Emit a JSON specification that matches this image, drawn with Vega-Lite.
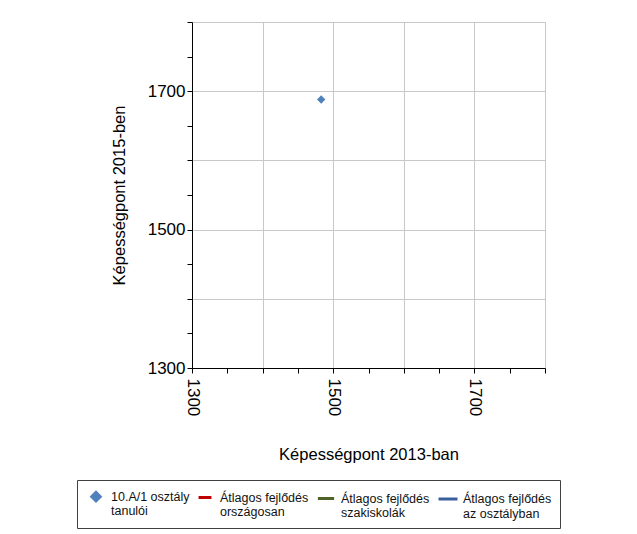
{
  "$schema": "https://vega.github.io/schema/vega-lite/v6.json",
  "width": 353,
  "height": 346,
  "autosize": {"type": "none"},
  "padding": {"left": 192, "top": 22, "right": 92, "bottom": 166},
  "background": "white",
  "config": {"font": "Liberation Sans", "view": {"stroke": "#c8c8c8"}},
  "data": {"values": [{"series": "10.A/1 osztály|tanulói", "x2013": 1483, "y2015": 1688}]},
  "mark": {"type": "point", "filled": true, "opacity": 1, "strokeWidth": 0},
  "encoding": {
    "x": {
      "field": "x2013", "type": "quantitative",
      "scale": {"domain": [1300, 1800], "nice": false, "zero": false},
      "axis": {
        "values": [1300, 1350, 1400, 1450, 1500, 1550, 1600, 1650, 1700, 1750, 1800],
        "format": "d",
        "labelExpr": "(datum.value - 1300) % 200 === 0 && datum.value < 1800 ? datum.label : ''",
        "labelAngle": 90, "labelAlign": "left", "labelBaseline": "middle",
        "labelFontSize": 17, "labelColor": "black", "labelPadding": 5,
        "labelFlush": false, "labelOverlap": false,
        "tickColor": "black", "tickSize": 5, "domainColor": "black",
        "gridColor": "#c8c8c8",
        "gridOpacity": {"condition": {"test": "datum.value % 100 === 0", "value": 1}, "value": 0},
        "title": "Képességpont 2013-ban", "titleFontSize": 16.5, "titleFontWeight": "normal",
        "titleColor": "black", "titlePadding": 31
      }
    },
    "y": {
      "field": "y2015", "type": "quantitative",
      "scale": {"domain": [1300, 1800], "nice": false, "zero": false},
      "axis": {
        "values": [1300, 1350, 1400, 1450, 1500, 1550, 1600, 1650, 1700, 1750, 1800],
        "format": "d",
        "labelExpr": "(datum.value - 1300) % 200 === 0 && datum.value < 1800 ? datum.label : ''",
        "labelFontSize": 17, "labelColor": "black", "labelPadding": 2,
        "labelFlush": false, "labelOverlap": false,
        "tickColor": "black", "tickSize": 5, "domainColor": "black",
        "gridColor": "#c8c8c8",
        "gridOpacity": {"condition": {"test": "datum.value % 100 === 0", "value": 1}, "value": 0},
        "title": "Képességpont 2015-ben", "titleFontSize": 16.5, "titleFontWeight": "normal",
        "titleColor": "black", "titlePadding": 20
      }
    },
    "fill": {
      "field": "series", "type": "nominal",
      "scale": {
        "domain": ["10.A/1 osztály|tanulói", "Átlagos fejlődés|országosan", "Átlagos fejlődés|szakiskolák", "Átlagos fejlődés|az osztályban"],
        "range": ["#4f81bd", "#c00000", "#4f6228", "#3a5f9f"]
      },
      "legend": {
        "title": null, "orient": "none", "legendX": -115, "legendY": 458,
        "direction": "horizontal", "columns": 4,
        "labelExpr": "split(datum.label, '|')",
        "labelFontSize": 12.5, "labelColor": "#111111", "labelLimit": 200,
        "labelOffset": 4,
        "strokeColor": "#404040", "padding": 8, "columnPadding": 2,
        "symbolStrokeWidth": 3
      }
    },
    "stroke": {
      "field": "series", "type": "nominal",
      "scale": {
        "domain": ["10.A/1 osztály|tanulói", "Átlagos fejlődés|országosan", "Átlagos fejlődés|szakiskolák", "Átlagos fejlődés|az osztályban"],
        "range": ["#4f81bd", "#c00000", "#4f6228", "#3a5f9f"]
      }
    },
    "shape": {
      "field": "series", "type": "nominal",
      "scale": {
        "domain": ["10.A/1 osztály|tanulói", "Átlagos fejlődés|országosan", "Átlagos fejlődés|szakiskolák", "Átlagos fejlődés|az osztályban"],
        "range": ["diamond", "stroke", "stroke", "stroke"]
      }
    },
    "size": {
      "field": "series", "type": "nominal",
      "scale": {
        "domain": ["10.A/1 osztály|tanulói", "Átlagos fejlődés|országosan", "Átlagos fejlődés|szakiskolák", "Átlagos fejlődés|az osztályban"],
        "range": [70, 360, 360, 360]
      }
    }
  }
}
